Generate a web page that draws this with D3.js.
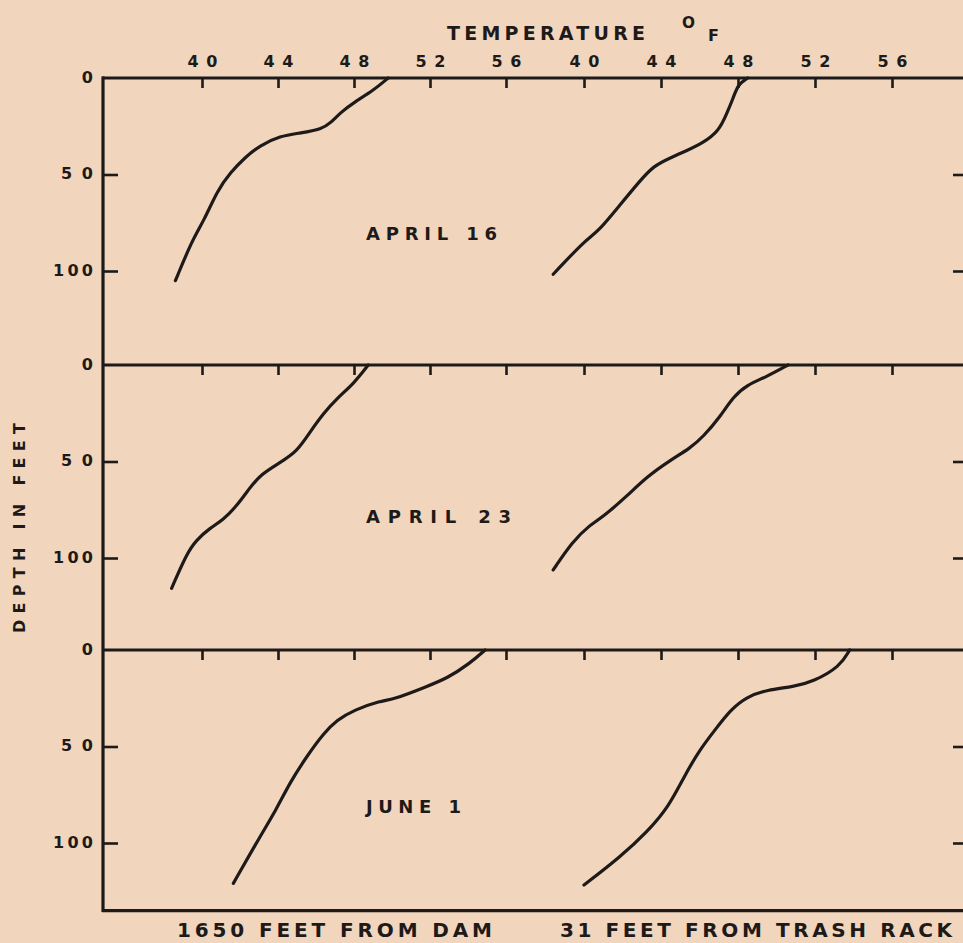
<!DOCTYPE html>
<html>
<head>
<meta charset="utf-8">
<script src="https://cdn.jsdelivr.net/npm/d3@7"></script>
<style>
  html, body { margin: 0; padding: 0; background: #f1d6bd; }
  svg { display: block; }
  text { font-family: "DejaVu Sans", sans-serif; fill: #1d1a19; }
</style>
</head>
<body>
<svg id="chart" width="963" height="943"></svg>
<script>
// ---------- data ----------
const tempTicks = [40, 44, 48, 52, 56];
const depthTicks = [0, 50, 100];
const panelLabels = ["APRIL 16", "APRIL 23", "JUNE 1"];
const panelMaxDepth = [149, 147, 135];
const stationLabels = ["1650 FEET FROM DAM", "31 FEET FROM TRASH RACK"];

// [temperature °F, depth ft]
const apr16Dam = [[49.8,0],[49.0,6.6],[48.0,12.6],[47.3,17.8],[46.8,23],[46.3,26.5],[45.2,28.5],[44.1,30],[43.05,35],[42.3,40.8],[41.5,48.9],[40.8,58.4],[40.1,74],[39.5,83.6],[38.6,105]];
const apr16Rack = [[48.5,0],[48.0,3.3],[47.76,10.2],[47.4,18.8],[47.0,27.5],[46.2,33.5],[45.3,37.8],[44.5,41.3],[43.6,45.6],[42.9,53.4],[41.9,65.4],[40.7,80.1],[40.1,83.6],[38.4,101.7]];
const apr23Dam = [[48.75,0],[48.0,9.5],[47.1,17.3],[46.4,25],[45.7,34.5],[45.0,44.9],[44.1,50.6],[43.05,57],[42.5,63.9],[41.8,73.4],[41.1,80.3],[40.4,84.6],[39.7,90.7],[39.2,97.6],[38.4,115.7]];
const apr23Rack = [[50.6,0],[49.5,6],[48.45,10.4],[47.76,16.4],[47.07,26.8],[46.2,37.1],[45.5,43.2],[44.5,49.2],[43.26,57.9],[42.2,68.2],[41.0,78.6],[40.3,82.9],[39.4,91.5],[38.4,106.2]];
const jun1Dam = [[54.9,0],[54.1,6.9],[52.9,14.7],[51.8,19],[50.1,25.6],[49.4,26.3],[48.0,31.1],[47.1,36.3],[46.4,43.2],[45.5,55.3],[44.6,69.1],[43.9,82.9],[43.05,96.7],[41.65,120.9]];
const jun1Rack = [[53.8,0],[53.3,8.6],[51.9,16.4],[50.9,19],[49.5,20.7],[48.45,24.2],[47.6,31.1],[46.8,41.5],[46.0,51.8],[45.2,65.6],[44.4,81.2],[43.3,94.1],[41.9,107.1],[40.0,121.8]];
const profiles = [[apr16Dam, apr16Rack], [apr23Dam, apr23Rack], [jun1Dam, jun1Rack]];

// ---------- layout ----------
const frameLeft = 103, frameRight = 964;
const panelTops = [78, 365, 650];
const pxPerFoot = 1.93;
const ink = "#1d1a19";

const svg = d3.select("#chart");

const xDam = d3.scaleLinear().domain([40, 56]).range([202, 506]);
const xRack = d3.scaleLinear().domain([40, 56]).range([584, 892]);
const xScales = [xDam, xRack];

const yScales = panelTops.map((t, i) =>
  d3.scaleLinear().domain([0, panelMaxDepth[i]]).range([t, t + panelMaxDepth[i] * pxPerFoot]));

const bottomY = yScales[2](panelMaxDepth[2]);

function styleAxis(g) {
  g.select(".domain").remove();
  g.selectAll(".tick line").attr("stroke", ink).attr("stroke-width", 2.6);
}

panelTops.forEach((top, i) => {
  const ys = yScales[i];
  xScales.forEach(xs => {
    const ax = d3.axisTop(xs).tickValues(tempTicks).tickSizeInner(-10).tickSizeOuter(0).tickPadding(11);
    const g = svg.append("g").attr("transform", `translate(0,${top})`).call(ax).call(styleAxis);
    if (i === 0) {
      g.selectAll(".tick text")
        .attr("font-size", 16).attr("font-family", "DejaVu Sans").attr("font-weight", "bold")
        .attr("fill", ink)
        .attr("textLength", 30).attr("lengthAdjust", "spacing");
    } else {
      g.selectAll(".tick text").remove();
    }
  });
  const ay = d3.axisLeft(ys).tickValues(depthTicks).tickSizeInner(-15).tickSizeOuter(0).tickPadding(10);
  const gy = svg.append("g").attr("transform", `translate(${frameLeft},0)`).call(ay).call(styleAxis);
  gy.selectAll(".tick text")
    .attr("font-size", 16).attr("font-family", "DejaVu Sans").attr("font-weight", "bold").attr("fill", ink)
    .attr("dy", "0.25em")
    .attr("textLength", d => d === 0 ? null : (d === 50 ? 32 : 40))
    .attr("lengthAdjust", "spacing");
  gy.selectAll(".tick").filter(d => d === 0).select("line").remove();
  const ar = d3.axisRight(ys).tickValues([50, 100]).tickSizeInner(-11).tickSizeOuter(0).tickFormat("");
  svg.append("g").attr("transform", `translate(${frameRight},0)`).call(ar).call(styleAxis);

  svg.append("line").attr("x1", frameLeft - 1).attr("x2", frameRight)
    .attr("y1", top).attr("y2", top).attr("stroke", ink).attr("stroke-width", 3.2);

  profiles[i].forEach((prof, j) => {
    const xs = xScales[j];
    const line = d3.line().x(d => xs(d[0])).y(d => ys(d[1])).curve(d3.curveBasis);
    svg.append("path").datum(prof).attr("d", line)
      .attr("fill", "none").attr("stroke", ink).attr("stroke-width", 3.2)
      .attr("stroke-linecap", "round").attr("stroke-linejoin", "round");
  });

  const labelLen = [131, 145, 95][i];
  const labelY = [240, 523, 813][i];
  svg.append("text").attr("x", 366).attr("y", labelY)
    .attr("font-size", 18).attr("font-weight", "bold")
    .attr("textLength", labelLen).attr("lengthAdjust", "spacing")
    .text(panelLabels[i]);
});

svg.append("line").attr("x1", frameLeft).attr("x2", frameLeft)
  .attr("y1", panelTops[0] - 1.5).attr("y2", bottomY + 1.5).attr("stroke", ink).attr("stroke-width", 3.2);
svg.append("line").attr("x1", frameLeft - 1).attr("x2", frameRight)
  .attr("y1", bottomY).attr("y2", bottomY).attr("stroke", ink).attr("stroke-width", 3.2);

svg.append("text").attr("x", 447).attr("y", 40)
  .attr("font-size", 19).attr("font-weight", "bold").attr("textLength", 198).attr("lengthAdjust", "spacing")
  .text("TEMPERATURE");
svg.append("text").attr("x", 682).attr("y", 28)
  .attr("font-size", 15).attr("font-weight", "bold").attr("textLength", 13).attr("lengthAdjust", "spacingAndGlyphs").text("O");
svg.append("text").attr("x", 708).attr("y", 41)
  .attr("font-size", 16).attr("font-weight", "bold").text("F");

svg.append("text")
  .attr("transform", "translate(25,528) rotate(-90)")
  .attr("text-anchor", "middle")
  .attr("font-size", 16).attr("font-weight", "bold")
  .attr("textLength", 210).attr("lengthAdjust", "spacing")
  .text("DEPTH IN FEET");

svg.append("text").attr("x", 177).attr("y", 937)
  .attr("font-size", 20).attr("font-weight", "bold")
  .attr("textLength", 315).attr("lengthAdjust", "spacing")
  .text(stationLabels[0]);
svg.append("text").attr("x", 560).attr("y", 937)
  .attr("font-size", 20).attr("font-weight", "bold")
  .attr("textLength", 392).attr("lengthAdjust", "spacing")
  .text(stationLabels[1]);
</script>
</body>
</html>
